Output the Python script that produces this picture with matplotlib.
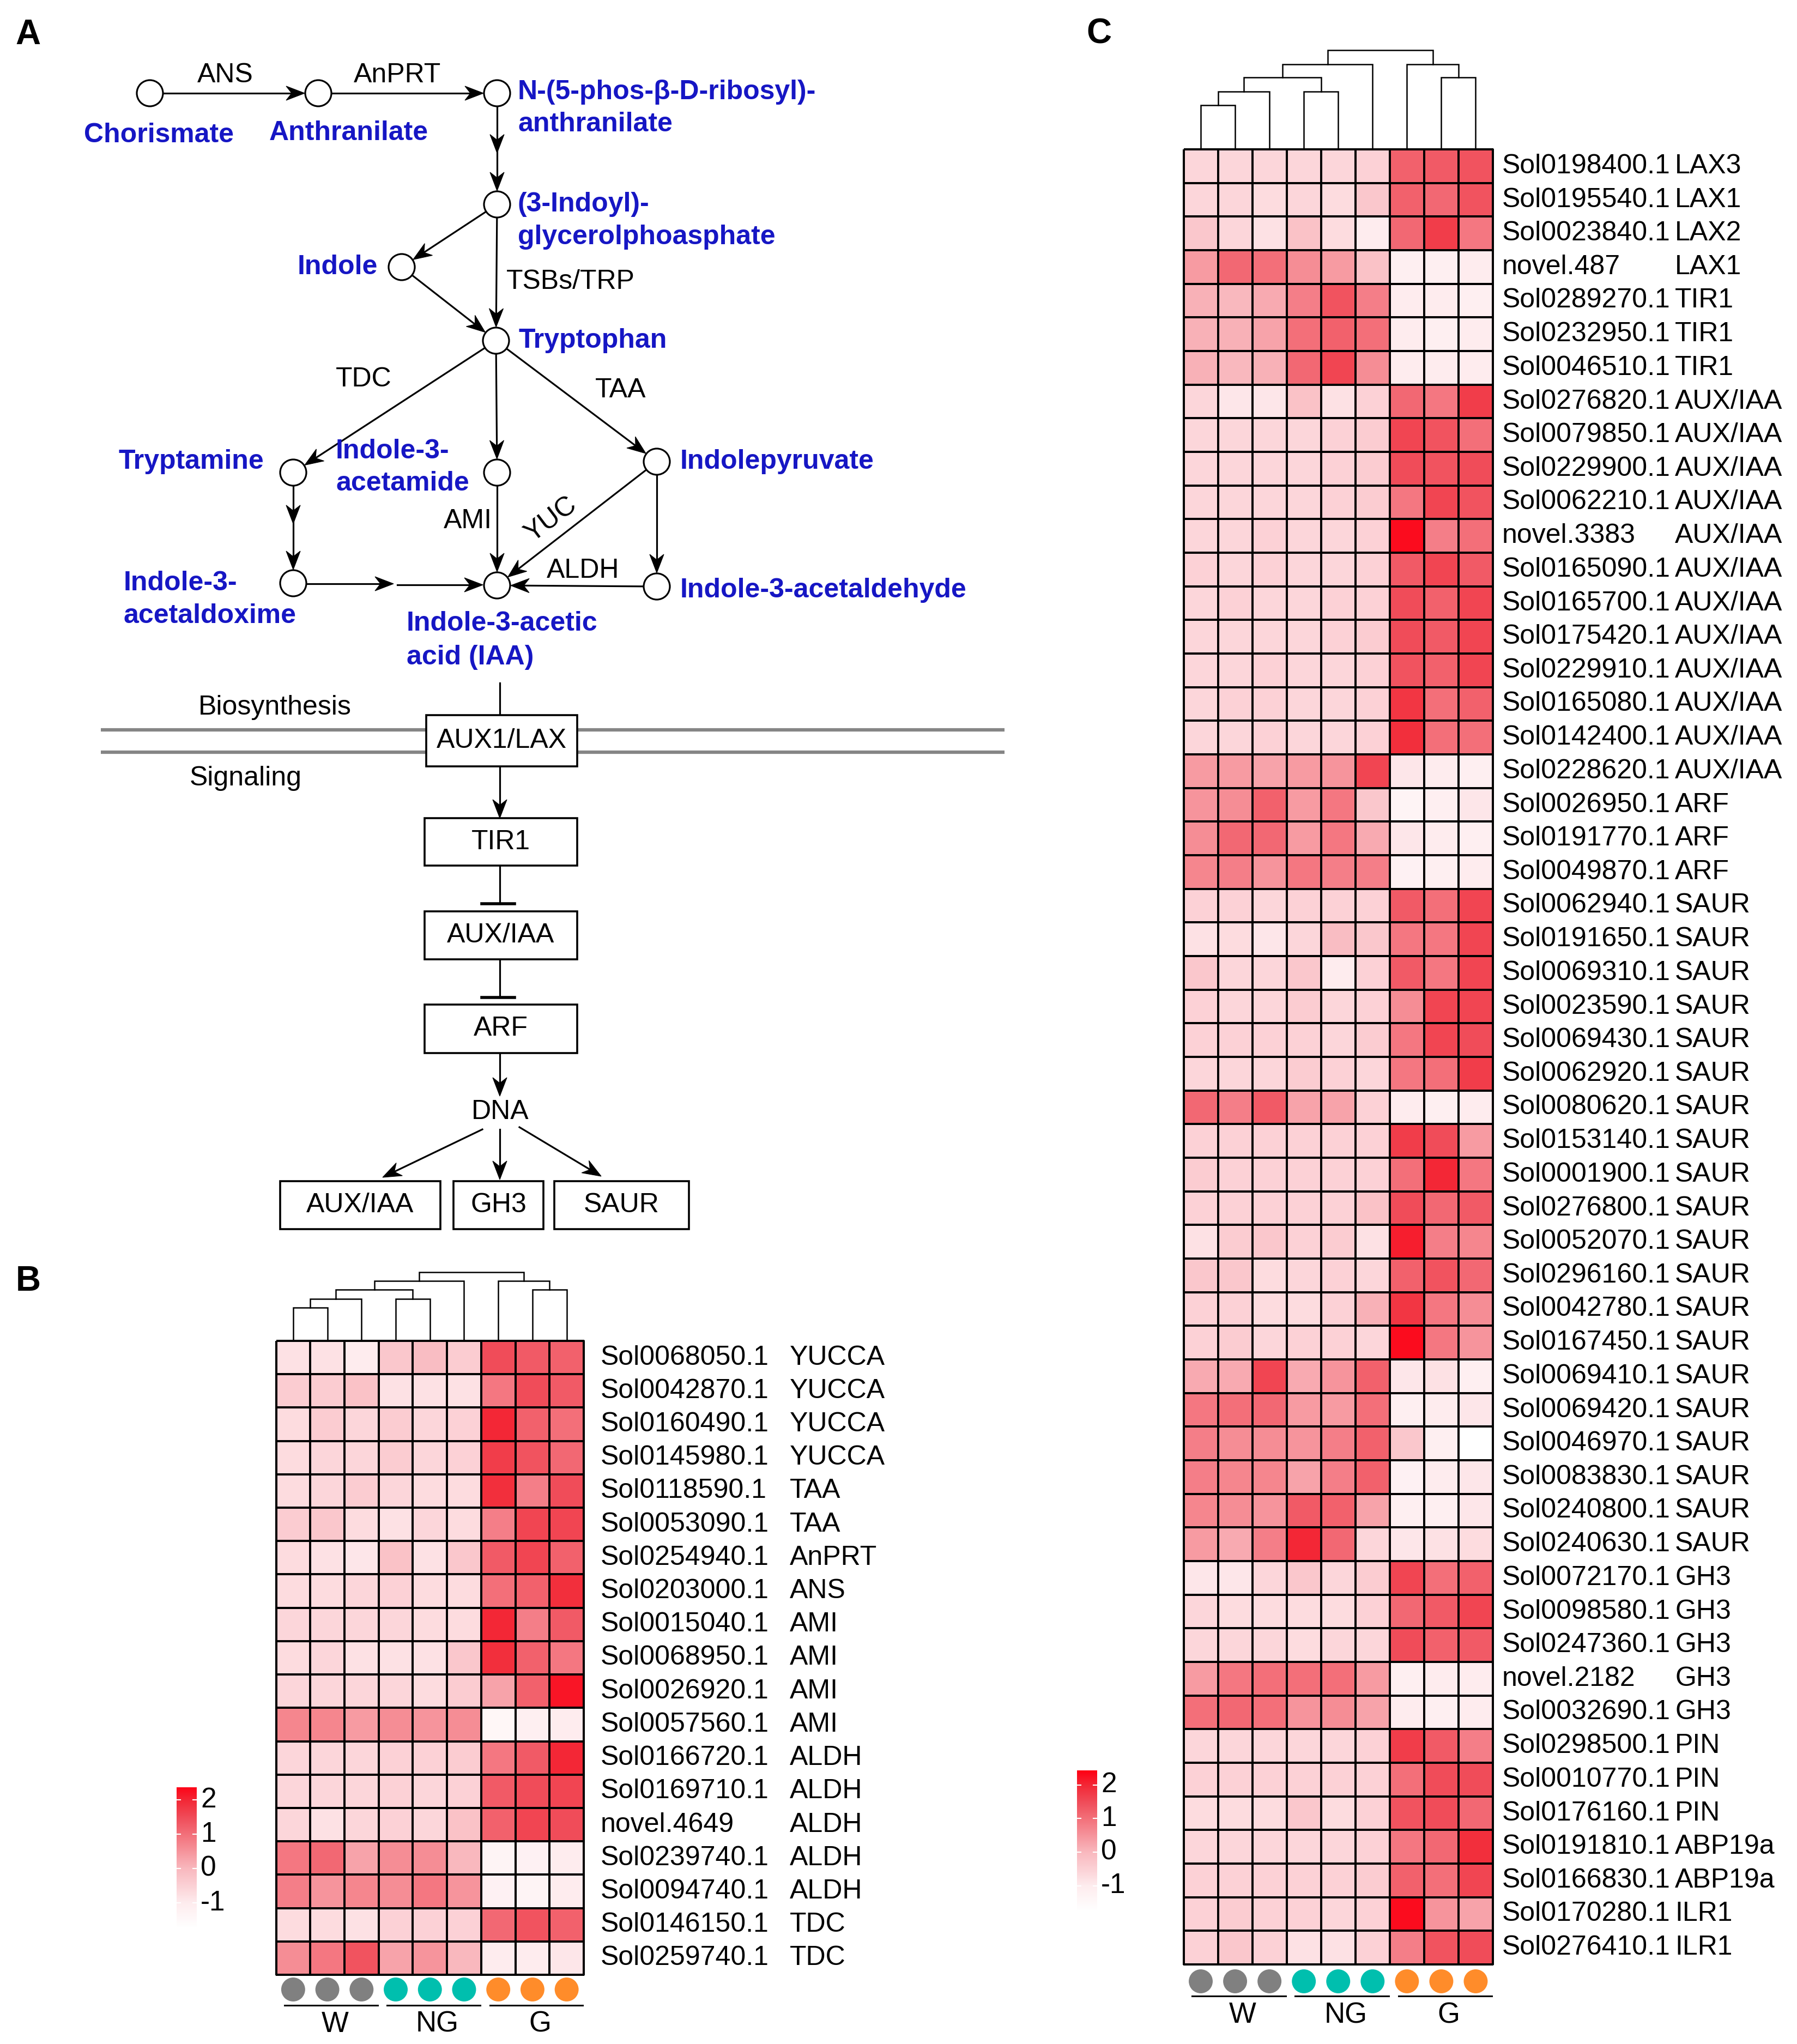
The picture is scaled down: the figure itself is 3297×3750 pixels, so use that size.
import numpy as np
import matplotlib
matplotlib.use("Agg")
import matplotlib.pyplot as plt
from matplotlib.colors import LinearSegmentedColormap, Normalize
from matplotlib.patches import Circle, Rectangle, Polygon

plt.rcParams['font.family'] = ['Liberation Sans', 'DejaVu Sans']

# ---------------- data ----------------
groups = ['W', 'NG', 'G']
group_colors = ['#808080', '#00BFAE', '#FF8C2A']
legend_ticks = [2, 1, 0, -1]

b_ids = ['Sol0068050.1', 'Sol0042870.1', 'Sol0160490.1', 'Sol0145980.1', 'Sol0118590.1',
         'Sol0053090.1', 'Sol0254940.1', 'Sol0203000.1', 'Sol0015040.1', 'Sol0068950.1',
         'Sol0026920.1', 'Sol0057560.1', 'Sol0166720.1', 'Sol0169710.1', 'novel.4649',
         'Sol0239740.1', 'Sol0094740.1', 'Sol0146150.1', 'Sol0259740.1']
b_genes = ['YUCCA', 'YUCCA', 'YUCCA', 'YUCCA', 'TAA', 'TAA', 'AnPRT', 'ANS', 'AMI', 'AMI',
           'AMI', 'AMI', 'ALDH', 'ALDH', 'ALDH', 'ALDH', 'ALDH', 'TDC', 'TDC']
# columns: W1 W2 W3 NG1 NG2 NG3 G1 G2 G3 (row z-scores)
b_values = np.array([
    [-0.8, -0.8, -1.0, -0.3, -0.1, -0.4, 1.5, 1.3, 1.2],
    [-0.4, -0.4, -0.2, -0.8, -0.8, -0.8, 0.9, 1.5, 1.3],
    [-0.7, -0.4, -0.6, -0.4, -0.6, -0.5, 2.0, 1.2, 1.0],
    [-0.7, -0.6, -0.6, -0.4, -0.6, -0.5, 1.7, 1.4, 1.1],
    [-0.7, -0.6, -0.4, -0.6, -0.7, -0.7, 1.9, 0.8, 1.5],
    [-0.4, -0.3, -0.7, -0.8, -0.6, -0.7, 0.8, 1.6, 1.6],
    [-0.7, -0.8, -0.9, -0.2, -0.8, -0.3, 1.3, 1.6, 1.2],
    [-0.7, -0.7, -0.6, -0.5, -0.7, -0.7, 1.0, 1.2, 1.9],
    [-0.6, -0.6, -0.6, -0.6, -0.7, -0.7, 2.0, 0.8, 1.3],
    [-0.7, -0.6, -0.8, -0.8, -0.8, -0.3, 1.9, 1.2, 0.9],
    [-0.6, -0.6, -0.6, -0.6, -0.7, -0.4, 0.3, 1.2, 2.2],
    [0.7, 0.7, 0.4, 0.6, 0.5, 0.6, -1.4, -1.1, -1.0],
    [-0.6, -0.6, -0.6, -0.5, -0.5, -0.4, 0.9, 1.3, 2.0],
    [-0.6, -0.6, -0.6, -0.5, -0.6, -0.5, 1.3, 1.5, 1.6],
    [-0.6, -0.8, -0.6, -0.5, -0.6, -0.2, 1.2, 1.6, 1.5],
    [0.9, 1.1, 0.3, 0.6, 0.6, 0.0, -1.3, -1.2, -1.0],
    [0.8, 0.5, 0.7, 0.6, 0.9, 0.5, -1.2, -1.3, -1.0],
    [-0.7, -0.7, -0.8, -0.5, -0.5, -0.5, 1.1, 1.4, 1.2],
    [0.6, 0.9, 1.4, 0.3, 0.5, 0.0, -1.0, -1.0, -0.9],
])

c_ids = ['Sol0198400.1', 'Sol0195540.1', 'Sol0023840.1', 'novel.487', 'Sol0289270.1',
         'Sol0232950.1', 'Sol0046510.1', 'Sol0276820.1', 'Sol0079850.1', 'Sol0229900.1',
         'Sol0062210.1', 'novel.3383', 'Sol0165090.1', 'Sol0165700.1', 'Sol0175420.1',
         'Sol0229910.1', 'Sol0165080.1', 'Sol0142400.1', 'Sol0228620.1', 'Sol0026950.1',
         'Sol0191770.1', 'Sol0049870.1', 'Sol0062940.1', 'Sol0191650.1', 'Sol0069310.1',
         'Sol0023590.1', 'Sol0069430.1', 'Sol0062920.1', 'Sol0080620.1', 'Sol0153140.1',
         'Sol0001900.1', 'Sol0276800.1', 'Sol0052070.1', 'Sol0296160.1', 'Sol0042780.1',
         'Sol0167450.1', 'Sol0069410.1', 'Sol0069420.1', 'Sol0046970.1', 'Sol0083830.1',
         'Sol0240800.1', 'Sol0240630.1', 'Sol0072170.1', 'Sol0098580.1', 'Sol0247360.1',
         'novel.2182', 'Sol0032690.1', 'Sol0298500.1', 'Sol0010770.1', 'Sol0176160.1',
         'Sol0191810.1', 'Sol0166830.1', 'Sol0170280.1', 'Sol0276410.1']
c_genes = ['LAX3', 'LAX1', 'LAX2', 'LAX1', 'TIR1', 'TIR1', 'TIR1'] + ['AUX/IAA'] * 12 + \
          ['ARF'] * 3 + ['SAUR'] * 20 + ['GH3'] * 5 + ['PIN'] * 3 + ['ABP19a'] * 2 + ['ILR1'] * 2
c_values = np.array([
    [-0.6, -0.6, -0.6, -0.6, -0.6, -0.5, 1.2, 1.3, 1.4],
    [-0.6, -0.6, -0.7, -0.6, -0.7, -0.3, 1.2, 1.1, 1.4],
    [-0.3, -0.6, -0.8, -0.2, -0.7, -1.0, 1.1, 1.7, 0.9],
    [0.4, 1.1, 1.0, 0.6, 0.4, -0.2, -1.1, -1.1, -1.0],
    [0.1, 0.0, 0.2, 0.8, 1.4, 0.8, -1.0, -1.0, -1.1],
    [0.1, 0.1, 0.3, 1.0, 1.2, 1.0, -1.0, -1.1, -1.0],
    [0.1, 0.0, 0.1, 1.1, 1.6, 0.6, -1.0, -1.0, -1.0],
    [-0.6, -0.9, -0.9, -0.2, -0.8, -0.5, 1.1, 0.9, 1.7],
    [-0.6, -0.6, -0.6, -0.6, -0.5, -0.4, 1.6, 1.4, 1.0],
    [-0.6, -0.6, -0.6, -0.6, -0.5, -0.4, 1.5, 1.4, 1.5],
    [-0.6, -0.6, -0.6, -0.6, -0.5, -0.4, 0.9, 1.6, 1.4],
    [-0.6, -0.6, -0.5, -0.6, -0.6, -0.5, 2.3, 0.8, 1.0],
    [-0.5, -0.6, -0.5, -0.6, -0.6, -0.5, 1.3, 1.6, 1.3],
    [-0.6, -0.5, -0.6, -0.6, -0.5, -0.5, 1.5, 1.2, 1.6],
    [-0.6, -0.6, -0.6, -0.6, -0.5, -0.4, 1.5, 1.3, 1.6],
    [-0.6, -0.6, -0.5, -0.6, -0.6, -0.5, 1.4, 1.2, 1.6],
    [-0.6, -0.5, -0.5, -0.6, -0.6, -0.5, 1.8, 1.0, 1.2],
    [-0.6, -0.6, -0.5, -0.6, -0.6, -0.5, 1.9, 1.0, 1.0],
    [0.4, 0.4, 0.3, 0.4, 0.5, 1.6, -0.9, -1.0, -1.1],
    [0.5, 0.6, 1.2, 0.4, 0.9, -0.3, -1.3, -1.1, -0.9],
    [0.6, 1.1, 1.1, 0.4, 0.9, 0.2, -0.9, -1.0, -1.1],
    [0.7, 0.8, 0.5, 0.9, 0.8, 0.8, -1.2, -1.1, -1.0],
    [-0.5, -0.5, -0.6, -0.5, -0.5, -0.5, 1.3, 1.0, 1.6],
    [-0.8, -0.7, -0.9, -0.6, -0.1, -0.3, 0.9, 0.9, 1.6],
    [-0.3, -0.6, -0.6, -0.3, -1.0, -0.5, 1.3, 0.9, 1.6],
    [-0.5, -0.6, -0.6, -0.4, -0.6, -0.5, 0.6, 1.6, 1.6],
    [-0.5, -0.5, -0.5, -0.5, -0.6, -0.4, 0.9, 1.6, 1.5],
    [-0.6, -0.6, -0.6, -0.4, -0.5, -0.6, 0.9, 1.0, 1.7],
    [1.1, 0.8, 1.3, 0.3, 0.3, -0.5, -1.0, -1.1, -1.0],
    [-0.5, -0.5, -0.5, -0.5, -0.5, -0.5, 1.7, 1.5, 0.4],
    [-0.4, -0.5, -0.5, -0.5, -0.5, -0.5, 1.0, 2.0, 0.9],
    [-0.5, -0.5, -0.5, -0.5, -0.5, -0.2, 1.5, 1.1, 1.3],
    [-0.8, -0.4, -0.3, -0.5, -0.4, -0.8, 2.1, 0.8, 0.7],
    [-0.3, -0.3, -0.7, -0.6, -0.5, -0.6, 1.2, 1.4, 1.1],
    [-0.5, -0.5, -0.7, -0.7, -0.5, 0.1, 1.8, 0.9, 0.6],
    [-0.5, -0.4, -0.6, -0.5, -0.5, -0.6, 2.3, 0.9, 0.5],
    [0.2, 0.2, 1.6, 0.2, 0.5, 1.2, -0.9, -0.8, -1.1],
    [0.9, 1.0, 1.1, 0.4, 0.4, 1.0, -1.1, -1.0, -0.9],
    [0.8, 0.6, 0.6, 0.5, 0.8, 1.2, -0.3, -1.1, -1.7],
    [0.8, 0.7, 0.7, 0.3, 0.8, 1.2, -1.2, -1.0, -0.9],
    [0.7, 0.6, 0.5, 1.3, 1.2, 0.3, -1.1, -1.1, -0.9],
    [0.4, 0.2, 0.8, 2.0, 1.1, -0.6, -0.9, -0.8, -0.7],
    [-0.9, -0.9, -0.6, -0.3, -0.6, -0.4, 1.6, 1.0, 1.2],
    [-0.6, -0.7, -0.7, -0.7, -0.7, -0.5, 1.1, 1.3, 1.6],
    [-0.6, -0.6, -0.6, -0.7, -0.6, -0.6, 1.5, 1.2, 1.3],
    [0.4, 0.9, 1.0, 1.0, 1.0, 0.4, -1.1, -1.0, -1.0],
    [1.0, 1.1, 1.0, 0.5, 0.6, 0.3, -1.0, -1.1, -1.0],
    [-0.6, -0.6, -0.6, -0.6, -0.6, -0.5, 1.7, 1.3, 0.8],
    [-0.5, -0.5, -0.5, -0.5, -0.5, -0.5, 1.0, 1.5, 1.5],
    [-0.7, -0.7, -0.7, -0.3, -0.7, -0.5, 1.4, 1.5, 1.1],
    [-0.6, -0.6, -0.6, -0.6, -0.6, -0.5, 0.9, 1.1, 1.9],
    [-0.5, -0.5, -0.5, -0.5, -0.5, -0.4, 1.2, 1.0, 1.6],
    [-0.5, -0.4, -0.5, -0.5, -0.6, -0.5, 2.3, 0.5, 0.3],
    [-0.5, -0.3, -0.5, -0.8, -0.8, -0.5, 0.8, 1.4, 1.5],
])

# column dendrograms: (left, right, merge height); leaves 0-8, new nodes from 9
b_merges = [(0, 1, 0.48), (9, 2, 0.61), (3, 4, 0.61), (10, 11, 0.74),
            (12, 5, 0.87), (7, 8, 0.74), (6, 14, 0.87), (13, 15, 1.0)]
c_merges = [(0, 1, 0.445), (9, 2, 0.58), (3, 4, 0.58), (10, 11, 0.725),
            (12, 5, 0.857), (7, 8, 0.725), (6, 14, 0.857), (13, 15, 1.0)]

# colour scale (white -> red)
scale_vals = [-1.73, -1.0, -0.6, 0.0, 0.5, 1.0, 1.5, 2.0, 2.43]
scale_cols = ['#FFFFFF', '#FEECEE', '#FCD6DA', '#F9B8BE', '#F6949C',
              '#F3707A', '#F04C59', '#F32836', '#FF0014']

# ---------------- figure ----------------
W, H = 3297, 3750
fig = plt.figure(figsize=(W / 100, H / 100), dpi=100)

vmin, vmax = scale_vals[0], scale_vals[-1]
cmap = LinearSegmentedColormap.from_list(
    'wr', [((v - vmin) / (vmax - vmin), c) for v, c in zip(scale_vals, scale_cols)])
norm = Normalize(vmin, vmax)


def px_axes(x0, y0, x1, y1):
    return fig.add_axes([x0 / W, 1 - y1 / H, (x1 - x0) / W, (y1 - y0) / H])


# overlay in pixel coordinates for panel A and panel letters
ov = px_axes(0, 0, W, H)
ov.set_xlim(0, W)
ov.set_ylim(H, 0)
ov.axis('off')

BLUE = '#1616C4'
LW = 2.3


def head(x1, y1, ux, uy, L=34, hw=13):
    px, py = -uy, ux
    pts = [(x1, y1),
           (x1 - L * ux + hw * px, y1 - L * uy + hw * py),
           (x1 - 0.7 * L * ux, y1 - 0.7 * L * uy),
           (x1 - L * ux - hw * px, y1 - L * uy - hw * py)]
    ov.add_patch(Polygon(pts, closed=True, fc='k', ec='k', lw=0.8, zorder=4))


def arrow(x0, y0, x1, y1, mid=None):
    d = np.hypot(x1 - x0, y1 - y0)
    ux, uy = (x1 - x0) / d, (y1 - y0) / d
    ov.plot([x0, x1 - 20 * ux], [y0, y1 - 20 * uy], color='k', lw=LW, zorder=3)
    head(x1, y1, ux, uy)
    if mid is not None:
        head(x0 + mid * (x1 - x0), y0 + mid * (y1 - y0), ux, uy)


def node_arrow(a, b, r=25, mid=None):
    (x0, y0), (x1, y1) = nodes[a], nodes[b]
    d = np.hypot(x1 - x0, y1 - y0)
    ux, uy = (x1 - x0) / d, (y1 - y0) / d
    arrow(x0 + r * ux, y0 + r * uy, x1 - r * ux, y1 - r * uy, mid)


nodes = {'chor': (275, 171), 'anth': (584, 171), 'npr': (912, 171), 'igp': (912, 375),
         'indole': (737, 490), 'trp': (910, 625), 'tam': (538, 867), 'iam': (912, 867),
         'ipa': (1205, 847), 'iaox': (538, 1070), 'iaa': (912, 1074), 'iaald': (1205, 1076)}

node_arrow('chor', 'anth')
node_arrow('anth', 'npr')
node_arrow('npr', 'igp', mid=0.55)
node_arrow('igp', 'indole')
node_arrow('indole', 'trp')
node_arrow('igp', 'trp')
node_arrow('trp', 'tam')
node_arrow('trp', 'iam')
node_arrow('trp', 'ipa')
node_arrow('tam', 'iaox', mid=0.45)
arrow(563, 1071, 722, 1071)
arrow(729, 1073, 886, 1073)
node_arrow('iam', 'iaa')
node_arrow('ipa', 'iaa')
node_arrow('ipa', 'iaald')
node_arrow('iaald', 'iaa')

for x, y in nodes.values():
    ov.add_patch(Circle((x, y), 24, fc='white', ec='k', lw=LW, zorder=5))

fs_a = 36
blue_labels = [
    ('Chorismate', 291, 248, 'center'), ('Anthranilate', 640, 244, 'center'),
    ('N-(5-phos-\u03b2-D-ribosyl)-', 950, 169, 'left'), ('anthranilate', 950, 228, 'left'),
    ('(3-Indoyl)-', 950, 375, 'left'), ('glycerolphoasphate', 950, 435, 'left'),
    ('Indole', 693, 490, 'right'), ('Tryptophan', 951, 625, 'left'),
    ('Tryptamine', 484, 847, 'right'), ('Indole-3-', 616, 828, 'left'),
    ('acetamide', 616, 887, 'left'), ('Indolepyruvate', 1248, 847, 'left'),
    ('Indole-3-', 227, 1070, 'left'), ('acetaldoxime', 227, 1130, 'left'),
    ('Indole-3-acetaldehyde', 1248, 1083, 'left'),
    ('Indole-3-acetic', 746, 1144, 'left'), ('acid (IAA)', 746, 1206, 'left')]
for s, x, y, ha in blue_labels:
    ov.text(x, y, s, color=BLUE, fontsize=fs_a, fontweight='bold', ha=ha, va='center')

black_labels = [('ANS', 413, 138), ('AnPRT', 729, 138), ('TDC', 667, 696), ('TAA', 1139, 716),
                ('AMI', 858, 956), ('ALDH', 1070, 1047), ('Biosynthesis', 504, 1298),
                ('Signaling', 451, 1428), ('DNA', 918, 2040)]
for s, x, y in black_labels:
    ov.text(x, y, s, fontsize=fs_a, ha='center', va='center')
ov.text(929, 517, 'TSBs/TRP', fontsize=fs_a, ha='left', va='center')
ov.text(1011, 953, 'YUC', fontsize=fs_a, ha='center', va='center', rotation=37)

# membrane
for y in (1339, 1380):
    ov.plot([185, 1843], [y, y], color='#858585', lw=4.5, zorder=1, solid_capstyle='butt')

boxes = [('AUX1/LAX', 782, 1312, 1059, 1406), ('TIR1', 779, 1501, 1059, 1588),
         ('AUX/IAA', 779, 1672, 1059, 1760), ('ARF', 779, 1843, 1059, 1932),
         ('AUX/IAA', 514, 2167, 808, 2255), ('GH3', 832, 2167, 997, 2255),
         ('SAUR', 1017, 2167, 1264, 2255)]
for s, x0, y0, x1, y1 in boxes:
    ov.add_patch(Rectangle((x0, y0), x1 - x0, y1 - y0, fc='white', ec='k', lw=2.6, zorder=5))
    ov.text((x0 + x1) / 2, (y0 + y1) / 2, s, fontsize=fs_a, ha='center', va='center', zorder=6)

ov.plot([917, 917], [1253, 1312], color='k', lw=LW)
arrow(917, 1406, 917, 1501)
for ytop, ybar in ((1588, 1658), (1760, 1830)):
    ov.plot([917, 917], [ytop, ybar], color='k', lw=LW)
    ov.plot([884, 944], [ybar, ybar], color='k', lw=4)
arrow(917, 1932, 917, 2011)
arrow(885, 2072, 702, 2160)
arrow(917, 2072, 917, 2164)
arrow(953, 2068, 1103, 2158)

for s, x, y in (('A', 51, 64), ('B', 52, 2351), ('C', 2016, 62)):
    ov.text(x, y, s, fontsize=46, fontweight='bold', ha='center', va='center')


# ---------------- heatmaps ----------------
def dendrogram(x0, x1, ybase, height, merges):
    dax = px_axes(x0, ybase - height, x1, ybase)
    dax.set_xlim(0, 9)
    dax.set_ylim(0, 1)
    dax.axis('off')
    pos = {i: (i + 0.5, 0.0) for i in range(9)}
    for k, (a, b, h) in enumerate(merges):
        xa, ha_ = pos[a]
        xb, hb = pos[b]
        dax.plot([xa, xa, xb, xb], [ha_, h, h, hb], color='k', lw=1.8,
                 clip_on=False, solid_joinstyle='miter')
        pos[9 + k] = ((xa + xb) / 2, h)


def heatmap(x0, y0, x1, y1, values, ids, genes, id_dx, gene_dx,
            circ_dy, line_dy, lab_dy, dend_h, merges):
    nrow = values.shape[0]
    ax = px_axes(x0, y0, x1, y1)
    mesh = ax.pcolormesh(np.arange(10), np.arange(nrow + 1), values, cmap=cmap, norm=norm,
                         edgecolors='k', linewidth=1.5)
    mesh.set_clip_on(False)
    ax.set_xlim(0, 9)
    ax.set_ylim(nrow, 0)
    ax.axis('off')
    colw = (x1 - x0) / 9
    rowh = (y1 - y0) / nrow
    for i, (gid, g) in enumerate(zip(ids, genes)):
        ax.text(9 + id_dx / colw, i + 0.5, gid, fontsize=36, ha='left', va='center')
        ax.text(9 + gene_dx / colw, i + 0.5, g, fontsize=36, ha='left', va='center')
    cols = np.arange(9) + 0.5
    ccols = [c for c in group_colors for _ in range(3)]
    ax.scatter(cols, np.full(9, nrow + circ_dy / rowh), s=1000, c=ccols,
               edgecolors='none', clip_on=False)
    for gi, gname in enumerate(groups):
        ax.plot([3 * gi + 0.25, 3 * gi + 2.97], [nrow + line_dy / rowh] * 2, color='k',
                lw=2.2, clip_on=False)
        ax.text(3 * gi + 1.72, nrow + lab_dy / rowh, gname, fontsize=38,
                ha='center', va='center')
    dendrogram(x0, x1, y0, dend_h, merges)


def colorbar(x0, y0, x1, y1, top):
    cax = px_axes(x0, y0, x1, y1)
    grad = np.linspace(vmin, top, 400).reshape(-1, 1)
    cax.imshow(grad, cmap=cmap, norm=norm, extent=[0, 1, vmin, top],
               origin='lower', aspect='auto')
    cax.set_xlim(0, 1)
    cax.set_ylim(vmin, top)
    cax.axis('off')
    for t in legend_ticks:
        cax.plot([0, 0.2], [t, t], color='white', lw=1.5)
        cax.plot([0.8, 1], [t, t], color='white', lw=1.5)
        cax.text(1 + 7 / (x1 - x0), t, '%d' % t, fontsize=37, ha='left', va='center')


heatmap(506.5, 2460, 1071, 3623, b_values, b_ids, b_genes, 31, 378,
        27, 56, 91, 126.5, b_merges)
colorbar(324, 3279, 361, 3537, 2.37)

heatmap(2171.5, 274, 2739, 3604, c_values, c_ids, c_genes, 17, 334,
        31, 58, 93, 182, c_merges)
colorbar(1976, 3248, 2013, 3505, 2.43)

fig.savefig('out.png', dpi=100)
